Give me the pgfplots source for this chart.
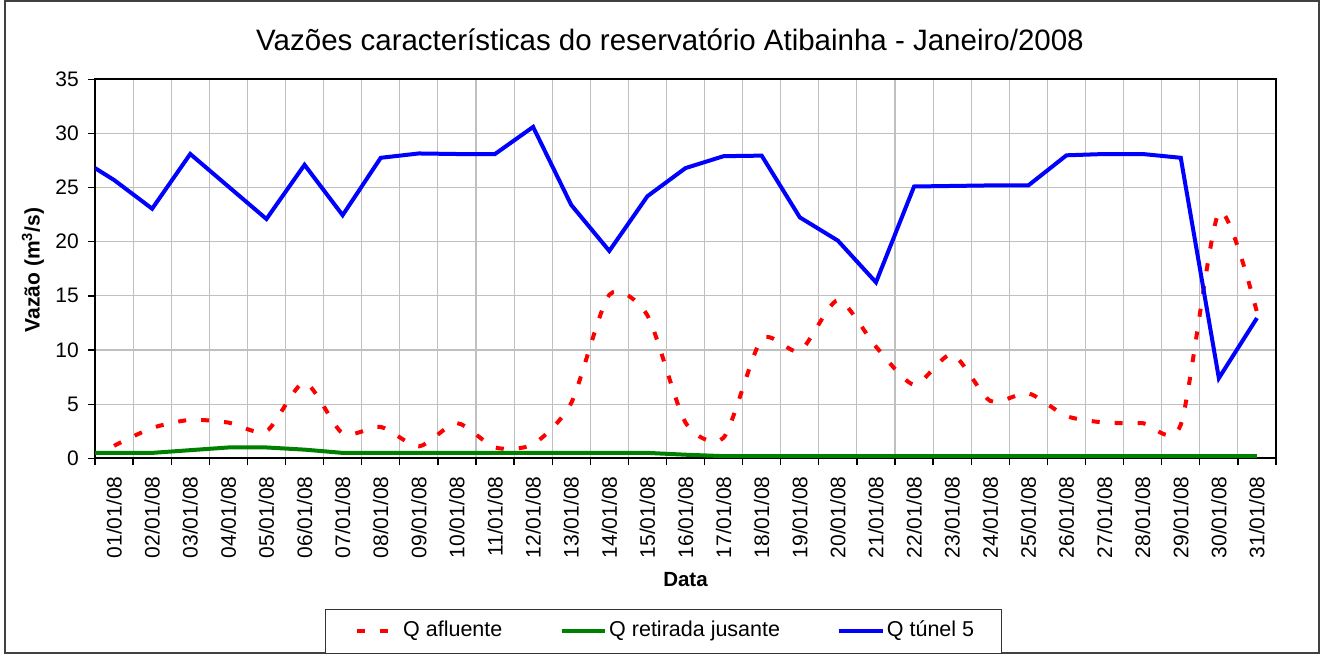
\documentclass[border=0pt]{standalone}
\usepackage{fontspec}
\setmainfont{Liberation Sans}
\usepackage{pgfplots}
\pgfplotsset{compat=1.18}
\definecolor{gridgray}{HTML}{C0C0C0}
\definecolor{frame}{HTML}{404040}
\definecolor{xlgreen}{HTML}{008000}
\begin{document}
\begin{tikzpicture}[x=1pt,y=1pt]
\path[use as bounding box] (0,0) rectangle (1323,655);
\draw[frame, line width=2pt] (4.5,1.5) rectangle (1318.5,654);
\begin{axis}[
  at={(95pt,196.7pt)}, anchor=south west,
  width=1181pt, height=379pt, scale only axis,
  xmin=0.5, xmax=31.5, ymin=0, ymax=35,
  xtick={0.5,1.5,...,31.5}, xticklabels={},
  ytick={0,5,...,35},
  tick pos=left,
  grid=major, grid style={color=gridgray, line width=1.1pt},
  tick align=outside, major tick length=7pt,
  tick style={black, line width=1.3pt},
  axis line style={black, line width=1.6pt},
  extra x ticks={1,2,...,31},
  extra x tick labels={01/01/08,02/01/08,03/01/08,04/01/08,05/01/08,06/01/08,07/01/08,08/01/08,09/01/08,10/01/08,11/01/08,12/01/08,13/01/08,14/01/08,15/01/08,16/01/08,17/01/08,18/01/08,19/01/08,20/01/08,21/01/08,22/01/08,23/01/08,24/01/08,25/01/08,26/01/08,27/01/08,28/01/08,29/01/08,30/01/08,31/01/08},
  extra x tick style={grid=none, tick style={draw=none}},
  x tick label style={rotate=90, anchor=east, inner sep=0pt},
  xticklabel shift=11pt,
  y tick label style={inner sep=0pt},
  yticklabel shift=9pt,
  ticklabel style={font=\fontsize{21}{25}\selectfont},
  /pgf/number format/assume math mode=true,
  legend columns=3,
  legend cell align=left,
  legend style={
    at={(axis description cs:0.19475,-0.3976)}, anchor=north west,
    draw=black!80, line width=1pt,
    inner xsep=27.2pt, inner ysep=12pt,
    font=\fontsize{21.5}{25}\selectfont,
    nodes={inner sep=0pt, text height=15.5pt, text depth=4.5pt},
    /tikz/every odd column/.append style={column sep=0pt},
    /tikz/every even column/.append style={column sep=56.3pt},
  },
]
\addplot[red, line width=4pt, smooth, tension=0.42, dash pattern=on 8pt off 15pt,
  legend image code/.code={\path[draw=none] (-2.5pt,0pt) rectangle (48pt,0pt); \draw[red, line width=4pt, solid] (2.3pt,0pt) -- (10.3pt,0pt) (25.3pt,0pt) -- (33.3pt,0pt);}]
  coordinates {
  (1,1.15) (2,2.8) (3,3.55) (4,3.3) (5,2.5) (6,7.0) (7,2.3) (8,2.9) (9,1.1) (10,3.25)
  (11,1.0) (12,1.3) (13,5.1) (14,15.1) (15,13.2) (16,3.3) (17,1.9) (18,11.0) (19,9.9) (20,14.6)
  (21,10.3) (22,6.8) (23,9.6) (24,5.3) (25,6.0) (26,3.9) (27,3.3) (28,3.25) (29,3.1) (30,22.7) (31,13.5)};
\addlegendentry{Q afluente}
\addplot[xlgreen, line width=4pt,
  legend image code/.code={\path[draw=none] (-2.5pt,0pt) rectangle (48pt,0pt); \draw[xlgreen, line width=4pt] (0.3pt,0pt) -- (43.5pt,0pt);}]
  coordinates {
  (0.5,0.5) (1,0.5) (2,0.5) (3,0.75) (4,1.0) (5,1.0) (6,0.8) (7,0.5) (8,0.5) (9,0.5) (10,0.5)
  (11,0.5) (12,0.5) (13,0.5) (14,0.5) (15,0.5) (16,0.33) (17,0.2) (18,0.2) (19,0.2) (20,0.2)
  (21,0.2) (22,0.2) (23,0.2) (24,0.2) (25,0.2) (26,0.2) (27,0.2) (28,0.2) (29,0.2) (30,0.2) (31,0.2)};
\addlegendentry{Q retirada jusante}
\addplot[blue, line width=4pt,
  legend image code/.code={\path[draw=none] (-2.5pt,0pt) rectangle (48pt,0pt); \draw[blue, line width=4pt] (0pt,0pt) -- (44pt,0pt);}]
  coordinates {
  (0.5,26.8) (1,25.7) (2,23.05) (3,28.1) (4,25.1) (5,22.1) (6,27.1) (7,22.45) (8,27.75) (9,28.15) (10,28.1)
  (11,28.1) (12,30.6) (13,23.4) (14,19.15) (15,24.2) (16,26.8) (17,27.9) (18,27.95) (19,22.25) (20,20.1)
  (21,16.25) (22,25.1) (23,25.15) (24,25.2) (25,25.2) (26,27.98) (27,28.1) (28,28.1) (29,27.75) (30,7.4) (31,12.95)};
\addlegendentry{Q túnel 5}
\end{axis}
\node[anchor=base, font=\fontsize{29.5}{34}\selectfont] at (670,604) {Vazões características do reservatório Atibainha - Janeiro/2008};
\node[rotate=90, font=\fontsize{21}{25}\selectfont\bfseries] at (33,385) {Vazão (m\textsuperscript{3}/s)};
\node[font=\fontsize{20.5}{25}\selectfont\bfseries] at (685.5,75) {Data};
\end{tikzpicture}
\end{document}
